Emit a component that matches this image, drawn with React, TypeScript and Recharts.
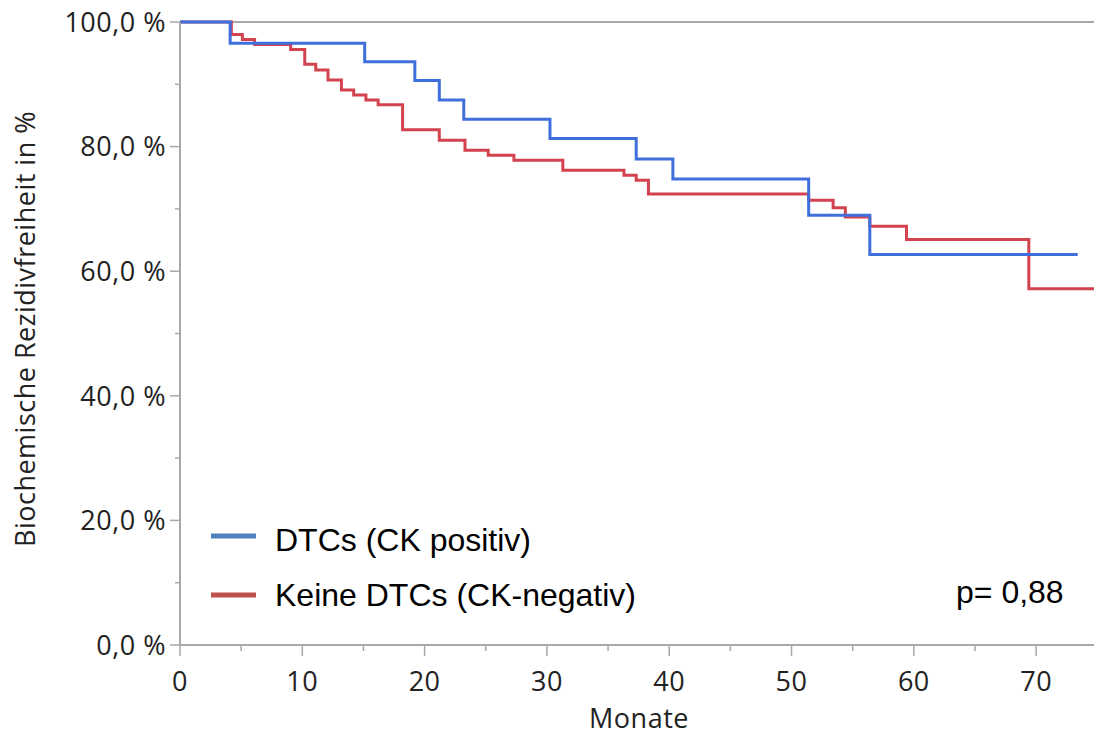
import { Line, LineChart, ReferenceLine, XAxis, YAxis, Label } from "recharts";

// Kaplan-Meier Schritte: Monat, an dem die Stufe beginnt, und Rezidivfreiheit in %
const ckPosMonths = [0, 4.1, 15.1, 19.2, 21.2, 23.2, 30.25, 37.3, 40.3, 51.4, 56.4, 73.4];
const ckPosSurv = [100, 96.6, 93.6, 90.6, 87.5, 84.4, 81.3, 78.0, 74.8, 69.0, 62.7, 62.7];

const ckNegMonths = [0, 4.2, 5.1, 6.1, 9.05, 10.2, 11.1, 12.1, 13.2, 14.2, 15.2, 16.2, 18.2, 21.2, 23.3, 25.2, 27.3, 31.3, 36.3, 37.3, 38.3, 51.4, 53.4, 54.4, 56.4, 59.4, 69.4, 76];
const ckNegSurv = [100, 98.0, 97.2, 96.4, 95.6, 93.2, 92.3, 90.7, 89.1, 88.3, 87.5, 86.7, 82.7, 81.0, 79.4, 78.6, 77.8, 76.2, 75.4, 74.6, 72.4, 71.4, 70.2, 68.7, 67.2, 65.1, 57.2, 57.2];

const xTicks = [0, 5, 10, 15, 20, 25, 30, 35, 40, 45, 50, 55, 60, 65, 70];
const yTicks = [0, 10, 20, 30, 40, 50, 60, 70, 80, 90, 100];

const seriesNames = ["DTCs (CK positiv)", "Keine DTCs (CK-negativ)"];
const pValueText = "p= 0,88";

const W = 1094;
const H = 736;
const AXIS = "#a8a8a8";
const INK = "#222";
const TICK_FONT = "'Open Sans', 'Noto Sans', sans-serif";
const TICK_SIZE = 27;
const SPACING = 0.5;

const ckPosData = ckPosMonths.map((t, i) => ({ t, s: ckPosSurv[i] }));
const ckNegData = ckNegMonths.map((t, i) => ({ t, s: ckNegSurv[i] }));

function fmtPct(v: number) {
  return `${v.toFixed(1).replace(".", ",")} %`;
}

function YTick(props: any) {
  const { x, y, payload } = props;
  const major = payload.value % 20 === 0;
  return (
    <g>
      <line x1={x - (major ? 10 : 5)} x2={x} y1={y} y2={y} stroke={AXIS} strokeWidth={1.5} />
      {major && (
        <text
          x={x - 14}
          y={y}
          dy="0.36em"
          textAnchor="end"
          fontSize={TICK_SIZE}
          letterSpacing={SPACING}
          fontFamily={TICK_FONT}
          fill={INK}
        >
          {fmtPct(payload.value)}
        </text>
      )}
    </g>
  );
}

function XTick(props: any) {
  const { x, y, payload } = props;
  const major = payload.value % 10 === 0;
  return (
    <g>
      <line x1={x} x2={x} y1={y} y2={y + (major ? 11 : 6)} stroke={AXIS} strokeWidth={1.5} />
      {major && (
        <text
          x={x}
          y={y + 46}
          textAnchor="middle"
          fontSize={TICK_SIZE}
          letterSpacing={SPACING}
          fontFamily={TICK_FONT}
          fill={INK}
        >
          {payload.value}
        </text>
      )}
    </g>
  );
}

export default function App() {
  return (
    <div style={{ position: "absolute", left: 0, top: 0, width: W, height: H, background: "#fff" }}>
      <LineChart width={W} height={H} margin={{ top: 22, right: 0, bottom: 0, left: 0 }}>
        <XAxis
          type="number"
          dataKey="t"
          domain={[0, 74.73]}
          allowDataOverflow
          ticks={xTicks}
          interval={0}
          tickSize={0}
          tickMargin={0}
          tick={<XTick />}
          height={91}
          stroke={AXIS}
          strokeWidth={2}
        >
          <Label
            content={(p: any) => {
              const vb = p.viewBox;
              return (
                <text
                  x={639}
                  y={vb.y + 83}
                  textAnchor="middle"
                  fontSize={TICK_SIZE}
                  letterSpacing={SPACING}
                  fontFamily={TICK_FONT}
                  fill={INK}
                >
                  Monate
                </text>
              );
            }}
          />
        </XAxis>
        <YAxis
          type="number"
          domain={[0, 100]}
          ticks={yTicks}
          interval={0}
          tickSize={0}
          tickMargin={0}
          tick={<YTick />}
          width={180}
          stroke={AXIS}
          strokeWidth={2}
        >
          <Label
            content={() => {
              const cx = 35;
              const cy = 329;
              return (
                <text
                  x={cx}
                  y={cy}
                  transform={`rotate(-90 ${cx} ${cy})`}
                  textAnchor="middle"
                  fontSize={TICK_SIZE}
                  letterSpacing={SPACING}
                  fontFamily={TICK_FONT}
                  fill={INK}
                >
                  Biochemische Rezidivfreiheit in %
                </text>
              );
            }}
          />
        </YAxis>
        <ReferenceLine y={100} stroke={AXIS} strokeWidth={2} />
        <Line
          data={ckNegData}
          dataKey="s"
          type="stepAfter"
          stroke="#d2434f"
          strokeWidth={3}
          dot={false}
          activeDot={false}
          isAnimationActive={false}
        />
        <Line
          data={ckPosData}
          dataKey="s"
          type="stepAfter"
          stroke="#3f6fdc"
          strokeWidth={3}
          dot={false}
          activeDot={false}
          isAnimationActive={false}
        />
      </LineChart>
      <svg
        width={W}
        height={H}
        style={{ position: "absolute", left: 0, top: 0, pointerEvents: "none" }}
      >
        <line x1={211} x2={256} y1={536} y2={536} stroke="#4f81bd" strokeWidth={5} />
        <text x={275} y={551} fontSize={32} fontFamily="'Liberation Sans', Arial, sans-serif" fill="#000">
          {seriesNames[0]}
        </text>
        <line x1={211} x2={256} y1={595} y2={595} stroke="#c0504d" strokeWidth={5} />
        <text x={275} y={606} fontSize={32} fontFamily="'Liberation Sans', Arial, sans-serif" fill="#000">
          {seriesNames[1]}
        </text>
        <text x={956} y={603} fontSize={32} fontFamily="'Liberation Sans', Arial, sans-serif" fill="#000">
          {pValueText}
        </text>
      </svg>
    </div>
  );
}
